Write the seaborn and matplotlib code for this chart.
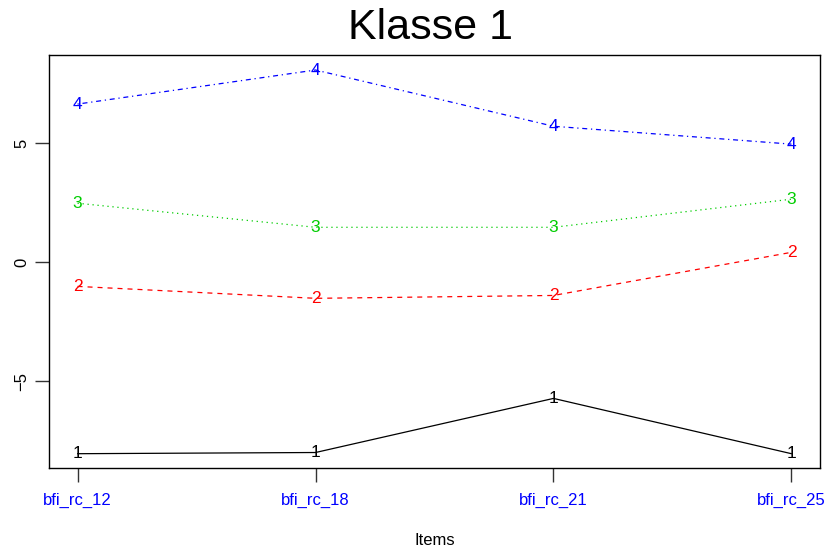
import numpy as np
import pandas as pd
import seaborn as sns
import matplotlib.pyplot as plt

# data
items = ["bfi_rc_12", "bfi_rc_18", "bfi_rc_21", "bfi_rc_25"]
klasse_1 = [-8.03, -7.98, -5.71, -8.03]
klasse_2 = [-1.01, -1.51, -1.39, 0.42]
klasse_3 = [2.48, 1.47, 1.47, 2.65]
klasse_4 = [6.64, 8.07, 5.71, 4.96]
series_names = ["1", "2", "3", "4"]

colors = ["#000000", "#FF0000", "#00CD00", "#0000FF"]
dashes = ["", (4, 4), (1, 3), (1, 3, 4, 3)]

rows = []
for name, vals in zip(series_names, [klasse_1, klasse_2, klasse_3, klasse_4]):
    for it, v in zip(items, vals):
        rows.append({"item": it, "value": v, "klasse": name})
df = pd.DataFrame(rows)

sns.set_style("white", rc={"text.color": "black", "axes.labelcolor": "black",
                           "xtick.color": "black", "ytick.color": "black"})
plt.rcParams["font.family"] = ["Liberation Sans", "DejaVu Sans"]

fig = plt.figure(figsize=(8.25, 5.48), dpi=100)
ax = fig.add_axes([49 / 825, (548 - 468) / 548, (820 - 49) / 825, (468 - 55) / 548])

sns.lineplot(data=df, x="item", y="value", hue="klasse", style="klasse",
             palette=colors, dashes=dashes, linewidth=0.9, legend=False, ax=ax)

# numbers drawn on top of points
for name, col in zip(series_names, colors):
    sub = df[df.klasse == name]
    for i, v in enumerate(sub["value"]):
        ax.text(i, v, name, color=col, fontsize=12.5, ha="center", va="center")

ax.set_xlim(-0.12, 3.12)
ax.set_ylim(-8.63, 8.70)
ax.set_xticks(range(len(items)))
ax.set_xticklabels(items, color="#0000FF", fontsize=12)
ax.set_yticks([-5, 0, 5])
ax.set_yticklabels(["\u22125", "0", "5"], rotation=90, va="center", fontsize=12)
ax.tick_params(axis="both", direction="out", length=10, width=1, color="#333333",
               bottom=True, left=True)
ax.tick_params(axis="x", pad=8)
ax.tick_params(axis="y", pad=4)
for s in ax.spines.values():
    s.set_visible(True)
    s.set_color("black")
    s.set_linewidth(1)

ax.set_xlabel("Items", fontsize=12, labelpad=18)
ax.set_ylabel("")
fig.text(431 / 825, 1 - 28 / 548, "Klasse 1", ha="center", va="center", fontsize=31,
         color="black")

fig.savefig("out.png", dpi=100)
